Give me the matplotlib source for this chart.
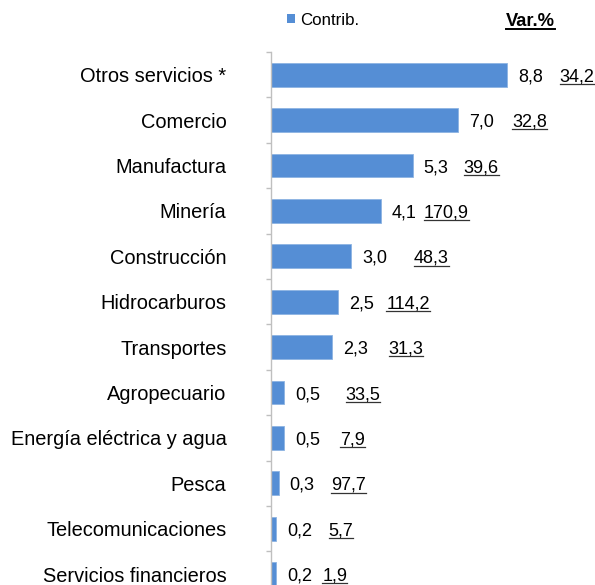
import numpy as np
import matplotlib
matplotlib.use('Agg')
import matplotlib.pyplot as plt
from matplotlib.patches import Rectangle
from matplotlib.lines import Line2D
from matplotlib.transforms import IdentityTransform

categories = ["Otros servicios *", "Comercio", "Manufactura", "Minería", "Construcción",
              "Hidrocarburos", "Transportes", "Agropecuario", "Energía eléctrica y agua",
              "Pesca", "Telecomunicaciones", "Servicios financieros"]
contrib = [8.8, 7.0, 5.3, 4.1, 3.0, 2.5, 2.3, 0.5, 0.5, 0.3, 0.2, 0.2]
var_pct = [34.2, 32.8, 39.6, 170.9, 48.3, 114.2, 31.3, 33.5, 7.9, 97.7, 5.7, 1.9]
legend_label = "Contrib."
var_header = "Var.%"

# layout (pixels) for the Var.% label gaps after the contribution label
var_gap_px = [42, 42.6, 40, 32.3, 52, 37.6, 45.3, 50.6, 45.3, 41.6, 41.7, 35.6]

BAR_COLOR = '#558ED5'
AXIS_COLOR = '#BFBFBF'
W, H = 595, 585
PT = 0.72  # points per pixel at dpi 100

plt.rcParams['font.family'] = ['Liberation Sans', 'DejaVu Sans']


def fmt(v):
    return f"{v:.1f}".replace('.', ',')


fig = plt.figure(figsize=(W / 100, H / 100), dpi=100)
axis_x = 270.5
top_px = 52
ax = fig.add_axes([axis_x / W, 0, 1 - axis_x / W, (H - top_px) / H])

n = len(categories)
y = np.arange(n)
ax.barh(y, contrib, height=0.52, color=BAR_COLOR, edgecolor='#8DB4E2', linewidth=0.6)

for s in ['top', 'right', 'bottom']:
    ax.spines[s].set_visible(False)
ax.spines['left'].set_color(AXIS_COLOR)
ax.spines['left'].set_linewidth(1)
ax.xaxis.set_visible(False)

ax.set_yticks(y, categories, fontsize=14.4)
ax.tick_params(axis='y', which='major', length=0, pad=31.7, labelcolor='black')
ax.set_yticks(np.arange(-0.5, n, 1), minor=True)
ax.tick_params(axis='y', which='minor', length=3.6, color=AXIS_COLOR, width=1)

unit = 45.4
ax.set_ylim(-0.5 + (H - top_px) / unit, -0.5)
ax.set_xlim(0, (W - axis_x) / 26.85)

var_texts = []
for i, (c, v, g) in enumerate(zip(contrib, var_pct, var_gap_px)):
    ax.annotate(fmt(c), (c, i), xytext=(11 * PT, 0), textcoords='offset points',
                va='center_baseline', ha='left', fontsize=13, color='black')
    t = ax.annotate(fmt(v), (c, i), xytext=((11 + g) * PT, 0), textcoords='offset points',
                    va='center_baseline', ha='left', fontsize=13, color='black')
    var_texts.append(t)

# legend
fig.add_artist(Rectangle((286.7 / W, 1 - 23.0 / H), 8.3 / W, 8.6 / H,
                         transform=fig.transFigure, facecolor=BAR_COLOR, edgecolor='none'))
fig.text(300 / W, 1 - 25 / H, legend_label, va='baseline', ha='left', fontsize=12.2)

hdr = fig.text(506 / W, 1 - 26 / H, var_header, va='baseline', ha='left',
               fontsize=13.2, fontweight='bold')

fig.canvas.draw()
renderer = fig.canvas.get_renderer()
for t in var_texts:
    bb = t.get_window_extent(renderer)
    fig.add_artist(Line2D([bb.x0, bb.x1], [bb.y0 + 1.3, bb.y0 + 1.3],
                          transform=IdentityTransform(), color='#333333', linewidth=0.9))
bb = hdr.get_window_extent(renderer)
fig.add_artist(Line2D([bb.x0, bb.x1], [bb.y0 + 0.8, bb.y0 + 0.8],
                      transform=IdentityTransform(), color='black', linewidth=1.4))

fig.savefig('out.png', dpi=100)
